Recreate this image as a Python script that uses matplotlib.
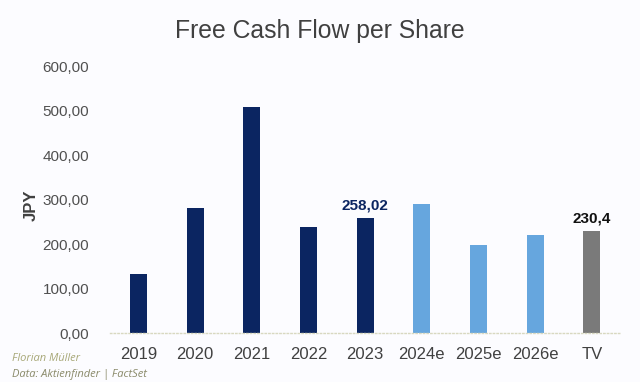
import matplotlib.pyplot as plt

# data
years = ['2019', '2020', '2021', '2022', '2023', '2024e', '2025e', '2026e', 'TV']
fcf = [132.0, 281.0, 507.0, 238.0, 258.02, 291.0, 198.0, 221.0, 230.4]
colors = ['#0b2561'] * 5 + ['#66a6de'] * 3 + ['#7a7a7a']
yticks = [0, 100, 200, 300, 400, 500, 600]
ytick_labels = ['0,00', '100,00', '200,00', '300,00', '400,00', '500,00', '600,00']

plt.rcParams['font.family'] = ['Liberation Sans', 'DejaVu Sans']

fig = plt.figure(figsize=(6.4, 3.82), dpi=100, facecolor='#fcfcff')
ax = fig.add_axes([0.172, 0.128, 0.797, 0.699])
ax.set_facecolor('#fcfcff')

x = range(len(years))
ax.bar(x, fcf, width=0.3, color=colors, zorder=2)

ax.set_xlim(-0.5, 8.5)
ax.set_ylim(0, 600)
ax.set_yticks(yticks)
ax.set_yticklabels(ytick_labels)
ax.set_xticks(list(x))
ax.set_xticklabels(years)
ax.tick_params(axis='y', length=0, pad=15, labelsize=11, labelcolor='#505050')
ax.tick_params(axis='x', length=0, pad=10, labelsize=12, labelcolor='#404040')

for s in ['top', 'right', 'left']:
    ax.spines[s].set_visible(False)
ax.spines['bottom'].set_color('#d8d8c0')
ax.spines['bottom'].set_linestyle(':')
ax.spines['bottom'].set_linewidth(1.0)

ax.set_ylabel('JPY', fontsize=12, fontweight='bold', color='#404040')
ax.yaxis.set_label_coords(-0.14, 0.48)

# value labels
ax.text(4, fcf[4] + 14, '258,02', ha='center', va='bottom', fontsize=11,
        fontweight='bold', color='#0b2561')
ax.text(8, fcf[8] + 12, '230,4', ha='center', va='bottom', fontsize=11,
        fontweight='bold', color='#111111')

fig.text(0.5, 0.92, 'Free Cash Flow per Share', ha='center', va='center',
         fontsize=17.8, color='#404040')

fig.text(0.018, 0.055, 'Florian Müller', fontsize=8, style='italic',
         color='#a8a878', family=['Open Sans', 'DejaVu Sans'])
fig.text(0.018, 0.012, 'Data: Aktienfinder | FactSet', fontsize=8, style='italic',
         color='#8a8a6a', family=['Open Sans', 'DejaVu Sans'])

plt.savefig('out.png', dpi=100, facecolor=fig.get_facecolor())
